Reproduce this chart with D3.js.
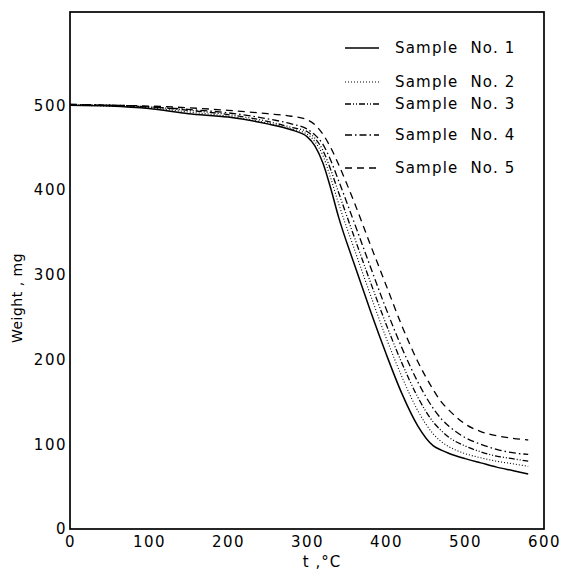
<!DOCTYPE html>
<html><head><meta charset="utf-8">
<script src="https://cdn.jsdelivr.net/npm/d3@7"></script>
<style>body{margin:0;background:#fff}svg{display:block}text{font-family:"DejaVu Sans",sans-serif;fill:#000}</style>
</head><body>
<svg id="c" width="561" height="573"></svg>
<script>
const temps = [0,50,100,150,200,250,280,300,310,320,330,340,360,380,400,420,440,460,470,480,500,520,540,560,580];
const sample1 = [500,499,496,490,486,478,471,463,452,432,402,368,312,258,207,160,122,98,93,89,83,78,73,69,65];
const sample2 = [500,499,497,492,487,479,472,466,457,441,414,384,330,277,226,180,140,112,103,97,89,84,80,77,74];
const sample3 = [500,500,498,494,489,481,474,469,461,447,424,397,344,292,242,196,156,126,116,108,98,91,86,83,80];
const sample4 = [501,500,498,495,491,484,478,472,465,454,435,411,361,310,260,214,174,142,130,121,108,100,94,90,88];
const sample5 = [501,500,499,497,494,490,487,483,477,466,450,430,385,336,288,240,198,164,150,140,124,115,110,107,105];
const seriesNames = ["Sample  No. 1","Sample  No. 2","Sample  No. 3","Sample  No. 4","Sample  No. 5"];
const xTicks = [0,100,200,300,400,500,600];
const yTicks = [0,100,200,300,400,500];

const series = [sample1,sample2,sample3,sample4,sample5];
const dashes = [null,"1,2","6,2,1,2,1,2","7,3,1.5,3","7,5"];
const widths = [1.5,1.1,1.3,1.3,1.3];

const svg = d3.select("#c");
const L=70,R=544,T=12,B=529;
const x = d3.scaleLinear().domain([0,600]).range([L,R]);
const y = d3.scaleLinear().domain([0,610]).range([B,T]);

svg.append("rect").attr("x",L).attr("y",T).attr("width",R-L).attr("height",B-T)
  .attr("fill","none").attr("stroke","#000").attr("stroke-width",1.7);

const xa = svg.append("g").attr("transform",`translate(0,${B})`)
  .call(d3.axisBottom(x).tickValues(xTicks).tickSize(0).tickPadding(7).tickFormat(d3.format("d")));
xa.select(".domain").remove();
xa.selectAll("text").attr("font-size",15).attr("letter-spacing",1.5).attr("font-family","DejaVu Sans");

const ya = svg.append("g").attr("transform",`translate(${L},0)`)
  .call(d3.axisLeft(y).tickValues(yTicks).tickSize(0).tickPadding(3).tickFormat(d3.format("d")));
ya.select(".domain").remove();
ya.selectAll("text").attr("font-size",15).attr("letter-spacing",1.5).attr("font-family","DejaVu Sans");

svg.append("text").attr("x",322).attr("y",567).attr("text-anchor","middle")
  .attr("font-size",15).attr("letter-spacing",1).text("t ,°C");
svg.append("text").attr("transform",`translate(22,${298}) rotate(-90)`)
  .attr("text-anchor","middle").attr("font-size",14).attr("letter-spacing",0.5).text("Weight , mg");

const line = d3.line().x((d,i)=>x(temps[i])).y(d=>y(d)).curve(d3.curveMonotoneX);
series.forEach((s,k)=>{
  svg.append("path").datum(s).attr("d",line).attr("fill","none").attr("stroke","#000")
    .attr("stroke-width",widths[k]).attr("stroke-dasharray",dashes[k]);
});

const legY = [48,82,104,135,168];
seriesNames.forEach((n,k)=>{
  svg.append("line").attr("x1",345).attr("x2",379).attr("y1",legY[k]).attr("y2",legY[k])
    .attr("stroke","#000").attr("stroke-width",widths[k]).attr("stroke-dasharray",dashes[k]);
  svg.append("text").attr("x",395).attr("y",legY[k]+5).attr("font-size",15)
    .attr("letter-spacing",1.2).attr("xml:space","preserve").style("white-space","pre").text(n);
});
</script>
</body></html>
